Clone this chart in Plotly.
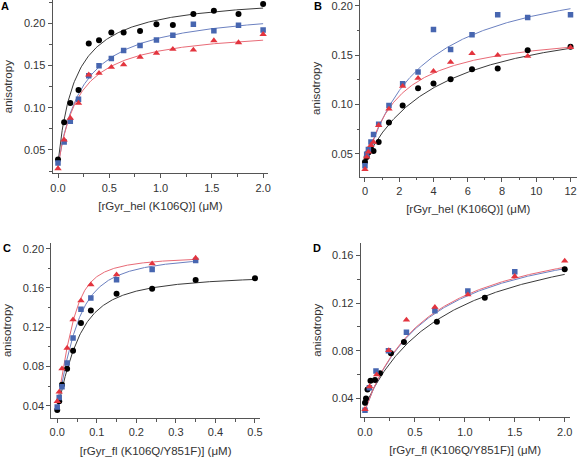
import numpy as np
import plotly.graph_objects as go

# ---------------- data ----------------
# Panel A: [rGyr_hel (K106Q)] (uM)
a_x = [0, 0.06, 0.12, 0.2, 0.3, 0.4, 0.52, 0.64, 0.8, 0.96, 1.12, 1.32, 1.52, 1.76, 2.0]
a_black = [0.0386, 0.0827, 0.1055, 0.121, 0.176, 0.180, 0.189, 0.189, 0.191, 0.199, 0.198, 0.211, 0.215, 0.211, 0.223]
a_blue = [0.0346, 0.0594, 0.0839, 0.1102, 0.1378, 0.1496, 0.1583, 0.1677, 0.1736, 0.1803, 0.1858, 0.1988, 0.1913, 0.1976, 0.1921]
a_red = [0.028, 0.062, 0.0878, 0.1055, 0.139, 0.141, 0.148, 0.151, 0.160, 0.1646, 0.1693, 0.1685, 0.1795, 0.1772, 0.187]

# Panel B
b_x = [0, 0.1, 0.2, 0.35, 0.5, 0.8, 1.4, 2.2, 3.1, 4.0, 5.0, 6.25, 7.75, 9.5, 12]
b_black = [0.0419, 0.047, 0.0514, 0.0554, 0.053, 0.062, 0.0818, 0.099, 0.1166, 0.1213, 0.1257, 0.1358, 0.1365, 0.155, 0.1584]
b_blue = [0.038, 0.0497, 0.0544, 0.0622, 0.0696, 0.080, 0.099, 0.121, 0.133, 0.176, 0.1557, 0.1706, 0.191, 0.188, 0.191]
b_red = [0.0345, 0.047, 0.052, 0.0588, 0.062, 0.079, 0.0956, 0.1186, 0.1267, 0.1338, 0.1429, 0.1517, 0.150, 0.149, 0.1578]

# Panel C: [rGyr_fl (K106Q/Y851F)] (uM)
c_x_black = [0, 0.005, 0.012, 0.025, 0.04, 0.06, 0.085, 0.15, 0.24, 0.35, 0.5]
c_black = [0.0356, 0.0445, 0.0614, 0.0777, 0.096, 0.1242, 0.1371, 0.1541, 0.1592, 0.168, 0.170]
c_x = [0, 0.005, 0.012, 0.025, 0.04, 0.06, 0.085, 0.15, 0.24, 0.35]
c_blue = [0.0386, 0.0485, 0.0593, 0.0835, 0.109, 0.1382, 0.1497, 0.1684, 0.1789, 0.188]
c_red = [0.0445, 0.054, 0.0777, 0.0988, 0.1277, 0.147, 0.1633, 0.1735, 0.1847, 0.1905]

# Panel D
d_x_black = [0, 0.01, 0.025, 0.055, 0.1, 0.15, 0.26, 0.39, 0.72, 1.2, 2.0]
d_black = [0.0364, 0.040, 0.0475, 0.055, 0.0556, 0.0611, 0.078, 0.0873, 0.1044, 0.1245, 0.1483]
d_x_blue = [0, 0.044, 0.11, 0.235, 0.415, 0.70, 1.03, 1.5]
d_blue = [0.0302, 0.049, 0.063, 0.080, 0.0955, 0.1136, 0.1301, 0.1463]
d_x_red = [0, 0.047, 0.117, 0.238, 0.415, 0.70, 1.03, 1.5, 2.0]
d_red = [0.031, 0.050, 0.060, 0.0803, 0.1059, 0.1165, 0.127, 0.1424, 0.1553]

# Fit parameters (baseline, amplitude, Kd[, ligand conc]) for fitted curves
a_fit_black = [0.035, 0.1987, 0.171]
a_fit_blue = [0.032, 0.1882, 0.2467]
a_fit_red = [0.030, 0.1649, 0.1989]
b_fit_black = [0.042, 0.157, 4.386]
b_fit_blue = [0.038, 0.2033, 3.344]
b_fit_red = [0.036, 0.1413, 1.897]
c_fit_black = [0.036, 0.140, 0.025, 0.05]
c_fit_blue = [0.038, 0.159, 0.020, 0.05]
c_fit_red = [0.042, 0.152, 0.010, 0.05]
d_fit_black = [0.034, 0.1569, 0.8525]
d_fit_blue = [0.030, 0.158, 0.66]
d_fit_red = [0.030, 0.1592, 0.654]

x_titles = ["[rGyr_hel (K106Q)] (\u03bcM)", "[rGyr_hel (K106Q)] (\u03bcM)",
            "[rGyr_fl (K106Q/Y851F)] (\u03bcM)", "[rGyr_fl (K106Q/Y851F)] (\u03bcM)"]
panel_labels = ["A", "B", "C", "D"]


def hyper(p, x):
    x = np.asarray(x)
    return p[0] + p[1] * x / (p[2] + x)


def quad(p, x):
    x = np.asarray(x)
    b = x + p[3] + p[2]
    f = (b - np.sqrt(b * b - 4 * x * p[3])) / (2 * p[3])
    return p[0] + p[1] * f


W, H = 577, 458
BLACK = "#000000"
BLUE = "#4766b0"
RED = "#e3343e"
LBLACK = "#3a3a3a"
LBLUE = "#6b80c0"
LRED = "#e86a76"
AX = "#555555"
TXT = "#333333"
FONT = "Liberation Sans, Arial, sans-serif"

fig = go.Figure()


def px_dom(a, b, total, flip=False):
    if flip:
        return [1 - b / total, 1 - a / total]
    return [a / total, b / total]


panels = [
    dict(xd=(52.5, 268.3), yd=(0, 173.3), xr=(-0.0536, 2.0506), yr=(0.0224, 0.2276), dx=0.5, dy=0.05, fx=".1f", fy=".2f"),
    dict(xd=(360, 576.5), yd=(0, 176.7), xr=(-0.29, 12.35), yr=(0.0270, 0.2058), dx=2, dy=0.05, fx="d", fy=".2f"),
    dict(xd=(51.3, 260), yd=(243, 418), xr=(-0.015, 0.5127), yr=(0.0275, 0.2058), dx=0.1, dy=0.04, fx=".1f", fy=".2f"),
    dict(xd=(360.7, 569.7), yd=(243, 417.3), xr=(-0.043, 2.05), yr=(0.0243, 0.1703), dx=0.5, dy=0.04, fx=".1f", fy=".2f"),
]


def add_series(i, x, y, color, symbol, size):
    xa = "x" if i == 0 else f"x{i+1}"
    ya = "y" if i == 0 else f"y{i+1}"
    fig.add_trace(go.Scatter(x=x, y=y, mode="markers", xaxis=xa, yaxis=ya,
                             marker=dict(color=color, symbol=symbol, size=size, line=dict(width=0)),
                             showlegend=False))


def add_curve(i, x, y, color):
    xa = "x" if i == 0 else f"x{i+1}"
    ya = "y" if i == 0 else f"y{i+1}"
    fig.add_trace(go.Scatter(x=x, y=y, mode="lines", xaxis=xa, yaxis=ya,
                             line=dict(color=color, width=1), showlegend=False))


# fitted curves
xa_c = np.linspace(0, 2.0, 200)
add_curve(0, xa_c, hyper(a_fit_black, xa_c), LBLACK)
add_curve(0, xa_c, hyper(a_fit_blue, xa_c), LBLUE)
add_curve(0, xa_c, hyper(a_fit_red, xa_c), LRED)
xb_c = np.linspace(0, 12, 300)
add_curve(1, xb_c, hyper(b_fit_black, xb_c), LBLACK)
add_curve(1, xb_c, hyper(b_fit_blue, xb_c), LBLUE)
add_curve(1, xb_c, hyper(b_fit_red, xb_c), LRED)
xc_c1 = np.linspace(0, 0.5, 300)
xc_c2 = np.linspace(0, 0.35, 300)
add_curve(2, xc_c1, quad(c_fit_black, xc_c1), LBLACK)
add_curve(2, xc_c2, quad(c_fit_blue, xc_c2), LBLUE)
add_curve(2, xc_c2, quad(c_fit_red, xc_c2), LRED)
xd_c = np.linspace(0, 2.0, 200)
add_curve(3, xd_c, hyper(d_fit_black, xd_c), LBLACK)
add_curve(3, xd_c, hyper(d_fit_blue, xd_c), LBLUE)
add_curve(3, xd_c, hyper(d_fit_red, xd_c), LRED)

# markers
add_series(0, a_x, a_black, BLACK, "circle", 6)
add_series(0, a_x, a_blue, BLUE, "square", 5.5)
add_series(0, a_x, a_red, RED, "triangle-up", 6.5)
add_series(1, b_x, b_black, BLACK, "circle", 6)
add_series(1, b_x, b_blue, BLUE, "square", 5.5)
add_series(1, b_x, b_red, RED, "triangle-up", 6.5)
add_series(2, c_x_black, c_black, BLACK, "circle", 6)
add_series(2, c_x, c_blue, BLUE, "square", 5.5)
add_series(2, c_x, c_red, RED, "triangle-up", 6.5)
add_series(3, d_x_black, d_black, BLACK, "circle", 6)
add_series(3, d_x_blue, d_blue, BLUE, "square", 5.5)
add_series(3, d_x_red, d_red, RED, "triangle-up", 6.5)

layout = dict(
    width=W, height=H,
    margin=dict(l=0, r=0, t=0, b=0, autoexpand=False),
    paper_bgcolor="white", plot_bgcolor="white",
    font=dict(family=FONT, size=11, color=TXT),
    showlegend=False,
)

for i, p in enumerate(panels):
    xk = "xaxis" if i == 0 else f"xaxis{i+1}"
    yk = "yaxis" if i == 0 else f"yaxis{i+1}"
    xa = "x" if i == 0 else f"x{i+1}"
    ya = "y" if i == 0 else f"y{i+1}"
    common = dict(showline=True, linecolor=AX, linewidth=1, ticks="outside", ticklen=4,
                  tickcolor=AX, tickwidth=1, showgrid=False, zeroline=False, automargin=False,
                  ticklabeloverflow="allow",
                  tickfont=dict(family=FONT, size=11, color=TXT),
                  minor=dict(ticks="outside", ticklen=2.5, tickcolor=AX, tickwidth=1, showgrid=False))
    layout[xk] = dict(common, domain=px_dom(*p["xd"], W), range=list(p["xr"]), anchor=ya,
                      tick0=0, dtick=p["dx"], tickformat=p["fx"],
                      title=dict(text=x_titles[i], font=dict(family=FONT, size=11.5, color=TXT), standoff=9))
    layout[xk]["minor"] = dict(common["minor"], dtick=p["dx"] / 2, tick0=0)
    layout[yk] = dict(common, domain=px_dom(*p["yd"], H, flip=True), range=list(p["yr"]), anchor=xa,
                      tick0=0, dtick=p["dy"], tickformat=p["fy"],
                      title=dict(text="anisotropy", font=dict(family=FONT, size=11.5, color=TXT), standoff=8))
    layout[yk]["minor"] = dict(common["minor"], dtick=p["dy"] / 2, tick0=0)

fig.update_layout(**layout)

label_pos = [(5, 6), (318, 6), (7, 248), (317, 248)]
for lab, (lx, ly) in zip(panel_labels, label_pos):
    fig.add_annotation(text="<b>" + lab + "</b>", x=lx / W, y=1 - ly / H, xref="paper", yref="paper",
                       showarrow=False, xanchor="center", yanchor="middle",
                       font=dict(family=FONT, size=11, color="#000000"))

fig.write_html("out.html", config={"displayModeBar": False},
               post_script="document.body.style.margin='0';document.body.style.overflow='hidden';")
